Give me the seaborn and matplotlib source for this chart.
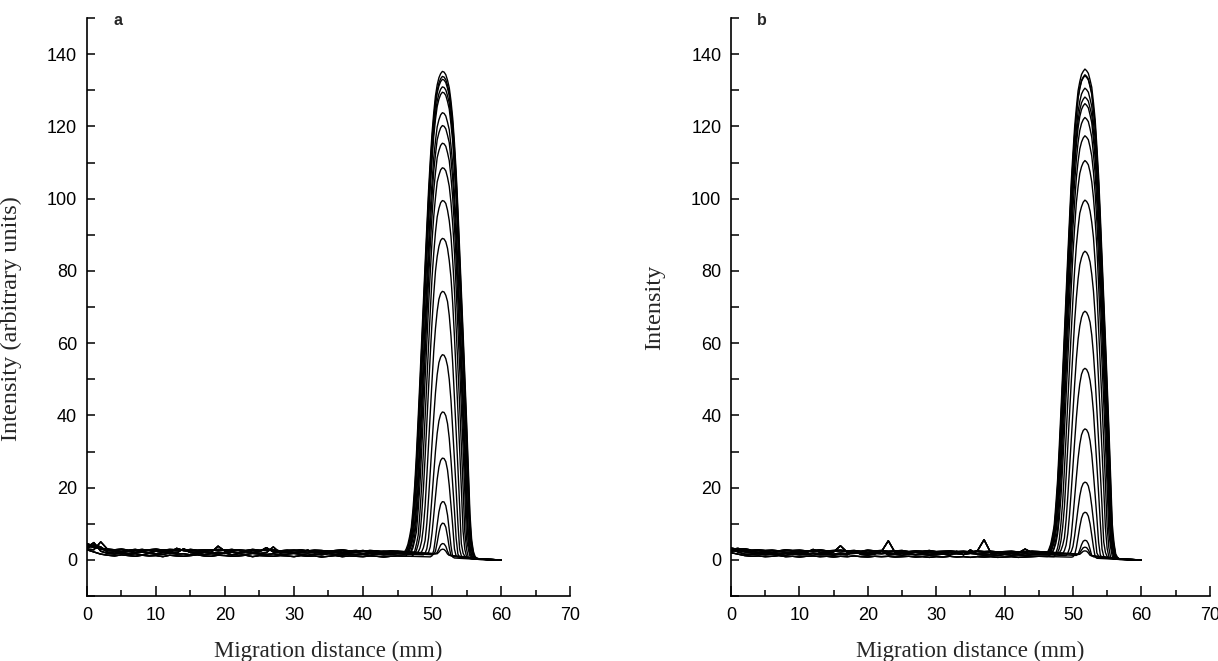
import numpy as np
import pandas as pd
import matplotlib
matplotlib.use("Agg")
import matplotlib.pyplot as plt
from matplotlib.ticker import MultipleLocator
import seaborn as sns

# ---- data ----
# peak heights of the successive scans (arbitrary units)
heights_a = [134, 133, 132, 130.5, 128.5, 122.5, 119, 114.5, 107.5, 99, 88, 73,
             55.5, 40, 27, 15.5, 9, 3, 1.5]
heights_b = [134.7, 133.5, 132.8, 130.1, 127.2, 125.0, 121.3, 116.6, 109.3, 99.1,
             84.5, 67.5, 51.8, 35.4, 20.2, 12.6, 4.4, 2.1, 1.2]
# relative band width of each scan (outer scan = 1)
widths_a = [1.0, 0.99, 0.98, 0.97, 0.95, 0.92, 0.9, 0.88, 0.85, 0.8, 0.74, 0.66,
            0.58, 0.5, 0.42, 0.32, 0.26, 0.2, 0.18]
widths_b = [1.0, 0.99, 0.98, 0.97, 0.96, 0.94, 0.92, 0.9, 0.87, 0.82, 0.76, 0.68,
            0.6, 0.51, 0.42, 0.34, 0.24, 0.2, 0.18]
center_a = 51.6
center_b = 51.8

# band profile of the outer scan (offset in mm -> fraction of peak height)
profile_offset = [-5.5, -5.0, -4.5, -4.0, -3.5, -3.0, -2.5, -2.0, -1.5, -1.0, -0.5, 0,
                  0.5, 1.0, 1.5, 2.0, 2.5, 3.0, 3.5, 4.0, 4.5, 5.0]
profile_value = [0, 0.02, 0.06, 0.16, 0.31, 0.47, 0.63, 0.78, 0.89, 0.96, 0.99, 1.0,
                 0.99, 0.96, 0.89, 0.77, 0.6, 0.43, 0.25, 0.05, 0.005, 0]

# baseline traces, 0..45 mm at 1 mm steps
base_x = list(range(46))
base_a = [
    [4.5, 3.8, 3.0, 2.6, 2.4, 2.2, 2.5, 2.1, 2.3, 2.0, 2.4, 2.2, 2.1, 3.2, 2.6, 2.2,
     2.0, 2.3, 2.1, 3.8, 2.4, 2.2, 2.0, 2.5, 2.1, 2.3, 3.4, 2.2, 2.0, 2.3, 2.1, 2.2,
     2.7, 2.0, 2.2, 2.1, 2.4, 2.0, 2.2, 2.1, 2.5, 2.0, 2.2, 1.9, 2.1, 2.3],
    [3.5, 4.8, 2.4, 1.8, 1.6, 1.9, 1.5, 1.7, 1.4, 1.8, 1.6, 1.5, 1.9, 1.6, 1.7, 1.4,
     1.8, 1.5, 1.7, 1.6, 1.9, 1.4, 1.7, 1.5, 1.8, 1.6, 1.5, 1.7, 1.4, 1.6, 1.8, 1.5,
     1.3, 1.6, 1.4, 1.7, 1.5, 1.3, 1.6, 1.4, 1.5, 1.3, 1.6, 1.4, 1.5, 1.7],
    [3.0, 2.8, 5.0, 2.9, 2.6, 2.8, 2.5, 2.7, 2.9, 2.6, 2.4, 2.8, 2.6, 2.5, 2.9, 2.7,
     2.4, 2.6, 2.8, 2.5, 2.7, 2.9, 2.6, 2.4, 2.7, 2.5, 2.8, 2.6, 2.3, 2.5, 2.7, 2.4,
     2.6, 2.3, 2.5, 2.4, 2.2, 2.5, 2.3, 2.4, 2.6, 2.3, 2.1, 2.4, 2.2, 2.0],
    [2.8, 2.2, 1.6, 1.3, 1.1, 1.4, 1.2, 1.0, 1.3, 1.1, 1.2, 0.9, 1.3, 1.1, 1.0, 1.2,
     1.4, 1.1, 1.0, 1.3, 1.2, 1.0, 1.1, 1.3, 0.9, 1.2, 1.1, 1.0, 1.2, 1.1, 0.9, 1.2,
     1.0, 1.1, 0.8, 1.0, 1.2, 0.9, 1.1, 1.0, 0.9, 1.1, 1.0, 0.8, 1.0, 1.1],
    [3.2, 4.2, 3.6, 2.1, 1.9, 2.1, 1.8, 2.0, 2.2, 1.9, 1.7, 2.0, 2.2, 1.9, 3.1, 2.0,
     1.8, 2.1, 1.9, 2.0, 1.8, 2.1, 1.9, 2.2, 2.0, 1.8, 2.0, 3.6, 1.9, 2.1, 1.8, 2.0,
     1.9, 2.1, 1.8, 1.9, 2.0, 1.7, 1.9, 2.0, 1.8, 1.9, 1.7, 2.0, 1.8, 1.9],
    [4.0, 3.4, 3.2, 3.0, 2.8, 3.0, 2.7, 2.9, 2.6, 2.8, 3.0, 2.7, 2.9, 2.8, 2.6, 2.9,
     2.7, 2.8, 2.6, 2.9, 2.7, 2.5, 2.8, 2.6, 2.9, 2.7, 2.6, 2.8, 2.5, 2.7, 2.6, 2.8,
     2.5, 2.7, 2.6, 2.4, 2.6, 2.8, 2.5, 2.6, 2.4, 2.6, 2.5, 2.3, 2.5, 2.4],
]
base_b = [
    [2.6, 2.8, 2.5, 2.3, 2.1, 2.2, 2.0, 2.3, 2.1, 1.9, 2.2, 2.0, 2.9, 2.1, 2.0, 2.2,
     3.9, 2.1, 2.0, 2.2, 1.9, 2.1, 2.3, 5.3, 2.0, 2.1, 1.9, 2.2, 2.0, 2.1, 1.9, 2.0,
     2.2, 1.9, 2.1, 2.0, 2.4, 5.6, 1.9, 2.0, 1.8, 2.1, 1.9, 3.0, 2.0, 2.1],
    [3.0, 2.2, 1.6, 1.5, 1.7, 1.4, 1.6, 1.5, 1.3, 1.6, 1.4, 1.5, 1.7, 1.4, 1.5, 1.3,
     1.6, 1.4, 2.5, 1.5, 1.3, 1.6, 2.4, 1.4, 1.5, 1.3, 1.6, 1.4, 1.5, 1.3, 1.4, 1.6,
     1.3, 2.4, 1.4, 2.8, 1.5, 1.3, 1.4, 1.2, 1.5, 1.3, 1.4, 1.2, 1.4, 1.5],
    [2.9, 3.2, 2.7, 2.5, 2.6, 2.4, 2.5, 2.3, 2.6, 2.4, 2.5, 2.3, 2.4, 2.6, 2.3, 2.4,
     2.5, 2.3, 2.4, 2.2, 2.5, 2.3, 2.4, 2.2, 2.3, 2.4, 2.1, 2.3, 2.2, 2.3, 2.1, 2.2,
     2.3, 2.1, 2.2, 2.0, 2.3, 2.1, 2.2, 2.0, 2.1, 2.2, 2.0, 2.1, 2.3, 2.2],
    [2.0, 1.6, 1.2, 1.0, 1.1, 0.9, 1.0, 1.2, 0.9, 1.0, 0.8, 1.0, 1.1, 0.9, 1.0, 0.8,
     1.0, 0.9, 1.1, 0.9, 0.8, 1.0, 0.9, 1.0, 0.8, 0.9, 1.0, 0.8, 0.9, 0.7, 0.9, 0.8,
     1.0, 0.8, 0.9, 0.7, 0.9, 0.8, 0.9, 0.7, 0.8, 0.9, 0.7, 0.8, 0.9, 1.0],
    [2.4, 2.6, 2.2, 1.9, 1.7, 1.9, 1.8, 1.6, 1.9, 1.7, 1.8, 1.6, 1.9, 1.7, 1.8, 1.6,
     1.9, 1.7, 1.8, 1.9, 1.6, 1.8, 1.7, 1.9, 1.6, 1.8, 1.7, 1.5, 1.8, 1.6, 1.7, 1.9,
     1.6, 1.7, 1.5, 1.8, 1.6, 1.7, 1.5, 1.7, 1.6, 1.8, 1.5, 1.7, 1.6, 1.7],
    [3.3, 2.9, 3.1, 2.7, 2.8, 2.6, 2.7, 2.5, 2.8, 2.6, 2.7, 2.5, 2.6, 2.8, 2.5, 2.6,
     2.7, 2.5, 2.6, 2.4, 2.7, 2.5, 2.6, 2.4, 2.5, 2.6, 2.3, 2.5, 2.4, 2.6, 2.3, 2.4,
     2.5, 2.3, 2.4, 2.2, 2.5, 2.3, 2.4, 2.2, 2.3, 2.4, 2.2, 2.3, 2.4, 2.3],
]
# baseline decay after 45 mm (fraction of the last baseline value)
tail_x = [45, 46, 47, 48, 49, 50, 51, 52, 53, 54, 55, 56, 57, 58, 59, 60]
tail_frac = [1.0, 0.95, 0.9, 0.85, 0.8, 0.75, 0.7, 0.6, 0.5, 0.4, 0.3, 0.2, 0.12,
             0.06, 0.03, 0.0]


def build_scans(heights, widths, bases, center):
    rows = []
    peak_x = np.arange(45.25, 60.001, 0.25)
    for i, (h, w) in enumerate(zip(heights, widths)):
        base = bases[i % len(bases)]
        for x, y in zip(base_x, base):
            rows.append((i, x, y))
        tail = np.interp(peak_x, tail_x, np.array(tail_frac) * base[-1])
        band = h * np.interp((peak_x - center) / w, profile_offset, profile_value)
        for x, y in zip(peak_x, tail + band):
            rows.append((i, x, y))
    return pd.DataFrame(rows, columns=["scan", "x", "y"])


df_a = build_scans(heights_a, widths_a, base_a, center_a)
df_b = build_scans(heights_b, widths_b, base_b, center_b)

sns.set_style("ticks")
plt.rcParams["font.family"] = ["Liberation Sans", "DejaVu Sans"]

fig = plt.figure(figsize=(12.18, 6.61), dpi=100)
ax_a = fig.add_axes([0.0714, 0.0983, 0.3966, 0.8744])
ax_b = fig.add_axes([0.6002, 0.0983, 0.3930, 0.8744])

panels = [(ax_a, df_a, "a", "Intensity (arbitrary units)"),
          (ax_b, df_b, "b", "Intensity")]

for ax, df, tag, ylab in panels:
    sns.lineplot(data=df, x="x", y="y", units="scan", estimator=None,
                 color="black", lw=1.0, sort=False, ax=ax)
    ax.set_xlim(0, 70)
    ax.set_ylim(-10, 150)
    ax.set_xticks(range(0, 71, 10))
    ax.set_yticks(range(0, 141, 20))
    ax.xaxis.set_minor_locator(MultipleLocator(5))
    ax.yaxis.set_minor_locator(MultipleLocator(10))
    ax.tick_params(axis="both", which="both", direction="in", width=1.1,
                   colors="black", labelsize=13)
    ax.tick_params(axis="x", which="major", length=7, pad=8)
    ax.tick_params(axis="x", which="minor", length=4)
    ax.tick_params(axis="y", which="major", length=6, pad=7)
    ax.tick_params(axis="y", which="minor", length=6)
    sns.despine(ax=ax)
    for s in ("left", "bottom"):
        ax.spines[s].set_linewidth(1.2)
        ax.spines[s].set_color("black")
    ax.set_xlabel("Migration distance (mm)", family="Liberation Serif", fontsize=16.5)
    ax.set_ylabel(ylab, family="Liberation Serif", fontsize=17.5)
    ax.xaxis.set_label_coords(0.5, -0.078)
    ax.text(0.064, 0.995, tag, transform=ax.transAxes, fontsize=11.5,
            fontweight="bold", ha="center", va="center")

ax_a.yaxis.set_label_coords(-0.135, 0.48)
ax_b.yaxis.set_label_coords(-0.138, 0.50)

fig.savefig("out.png", dpi=100)
